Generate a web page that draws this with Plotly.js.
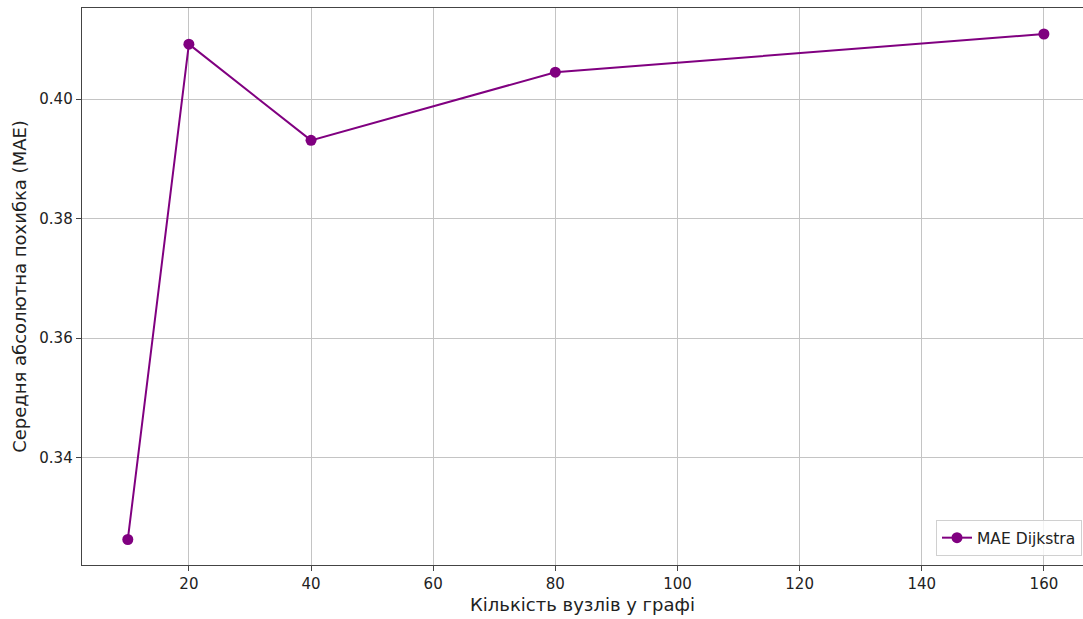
<!DOCTYPE html>
<html>
<head>
<meta charset="utf-8">
<script src="https://cdn.plot.ly/plotly-3.0.1.min.js"></script>
<style>html,body{margin:0;padding:0;background:#fff;}#chart{width:1083px;height:619px;}</style>
</head>
<body>
<div id="chart"></div>
<script>
const nodes = [10, 20, 40, 80, 160];
const maeDijkstra = [0.3263, 0.4092, 0.3931, 0.4045, 0.4109];
const seriesName = "MAE Dijkstra";
const xTitle = "Кількість вузлів у графі";
const yTitle = "Середня абсолютна похибка (MAE)";
const xTicks = [20, 40, 60, 80, 100, 120, 140, 160];
const yTicks = [0.34, 0.36, 0.38, 0.40];

const font = {family: "DejaVu Sans", size: 15, color: "#222"};
const trace = {
  x: nodes, y: maeDijkstra, name: seriesName, type: "scatter", mode: "lines+markers",
  line: {color: "#800080", width: 2},
  marker: {color: "#800080", size: 11}
};
const layout = {
  width: 1083, height: 619,
  margin: {l: 82, r: 0, t: 8, b: 54},
  paper_bgcolor: "#fff", plot_bgcolor: "#fff",
  font: font,
  showlegend: true,
  legend: {x: 0.999, xanchor: "right", y: 0.016, yanchor: "bottom",
    bordercolor: "#d0d0d0", borderwidth: 1, bgcolor: "rgba(255,255,255,0.8)",
    font: {family: "DejaVu Sans", size: 15.5, color: "#222"}},
  xaxis: {
    range: [2.5, 166.4], tickvals: xTicks, ticktext: xTicks.map(String),
    showgrid: true, gridcolor: "#c4c4c4", gridwidth: 1,
    showline: true, linecolor: "#444", linewidth: 1.3, mirror: true,
    ticks: "outside", ticklen: 5, tickcolor: "#444", zeroline: false,
    tickfont: {family: "DejaVu Sans", size: 15, color: "#222"},
    title: {text: xTitle, font: {family: "DejaVu Sans", size: 18, color: "#222"}, standoff: 6}
  },
  yaxis: {
    range: [0.32203, 0.41525], tickvals: yTicks, ticktext: yTicks.map(v => v.toFixed(2)),
    showgrid: true, gridcolor: "#c4c4c4", gridwidth: 1,
    showline: true, linecolor: "#444", linewidth: 1.3,
    ticks: "outside", ticklen: 5, tickcolor: "#444", zeroline: false,
    tickfont: {family: "DejaVu Sans", size: 15, color: "#222"},
    title: {text: yTitle, font: {family: "DejaVu Sans", size: 18, color: "#222"}, standoff: 8}
  }
};
Plotly.newPlot("chart", [trace], layout, {displayModeBar: false, staticPlot: true});
</script>
</body>
</html>
